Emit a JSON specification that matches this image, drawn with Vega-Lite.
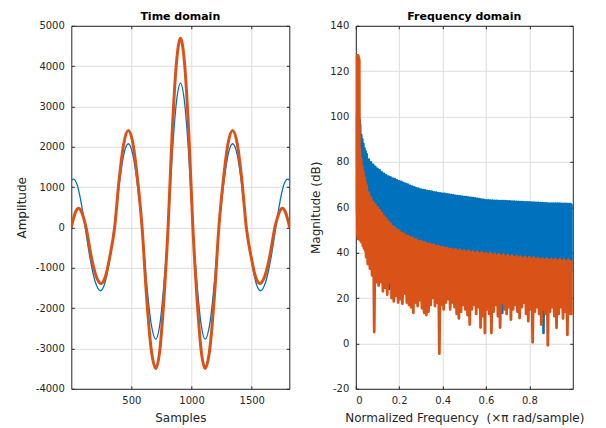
{
  "$schema": "https://vega.github.io/schema/vega-lite/v6.json",
  "background": "white",
  "padding": {"left": 14.3, "top": 10.8, "right": 5, "bottom": 5},
  "autosize": {"type": "pad"},
  "spacing": 18.5,
  "config": {
    "font": "DejaVu Sans",
    "view": {"stroke": null},
    "axis": {
      "labelFont": "DejaVu Sans", "labelFontSize": 10, "labelColor": "#262626",
      "titleFont": "DejaVu Sans", "titleFontSize": 12, "titleColor": "#262626", "titleFontWeight": "normal",
      "domainColor": "#262626", "tickColor": "#262626", "gridColor": "#dedede", "gridOpacity": 1,
      "tickSize": -3, "labelPadding": 10, "titlePadding": 7,
      "labelExpr": "'' + datum.value"
    },
    "axisX": {"titlePadding": 6.5},
    "title": {"font": "DejaVu Sans", "fontSize": 11, "fontWeight": "bold", "color": "#000000", "offset": -1.2, "frame": "group"}
  },
  "datasets": {
    "tb": [
      {"n":1,"v":1165},{"n":20,"v":1197},{"n":52,"v":1037},{"n":84,"v":599},{"n":116,"v":0},
      {"n":158,"v":-785},{"n":201,"v":-1359},{"n":243,"v":-1569},{"n":282,"v":-1359},{"n":320,"v":-785},
      {"n":359,"v":0},{"n":398,"v":1038},{"n":436,"v":1797},{"n":475,"v":2075},{"n":513,"v":1797},
      {"n":551,"v":1038},{"n":589,"v":0},{"n":627,"v":-1385},{"n":665,"v":-2398},{"n":703,"v":-2769},
      {"n":737,"v":-2398},{"n":771,"v":-1385},{"n":805,"v":0},{"n":839,"v":1789},{"n":874,"v":3098},
      {"n":908,"v":3577},{"n":942,"v":3098},{"n":977,"v":1789},{"n":1011,"v":0},{"n":1045,"v":-1385},
      {"n":1079,"v":-2398},{"n":1113,"v":-2769},{"n":1151,"v":-2398},{"n":1189,"v":-1385},{"n":1227,"v":0},
      {"n":1265,"v":1038},{"n":1303,"v":1797},{"n":1341,"v":2075},{"n":1380,"v":1797},{"n":1418,"v":1038},
      {"n":1457,"v":0},{"n":1496,"v":-785},{"n":1534,"v":-1359},{"n":1573,"v":-1569},{"n":1615,"v":-1359},
      {"n":1658,"v":-785},{"n":1700,"v":0},{"n":1732,"v":599},{"n":1764,"v":1037},{"n":1796,"v":1197},
      {"n":1815,"v":1165}
    ],
    "to": [
      {"n":1,"v":0},{"n":21,"v":239},{"n":41,"v":414},{"n":61,"v":478},{"n":82,"v":414},{"n":103,"v":239},
      {"n":124,"v":0},{"n":165,"v":-695},{"n":207,"v":-1204},{"n":248,"v":-1390},{"n":286,"v":-1204},
      {"n":323,"v":-695},{"n":361,"v":0},{"n":399,"v":1203},{"n":437,"v":2083},{"n":475,"v":2405},
      {"n":513,"v":2083},{"n":551,"v":1203},{"n":589,"v":0},{"n":627,"v":-1748},{"n":665,"v":-3027},
      {"n":703,"v":-3495},{"n":737,"v":-3027},{"n":771,"v":-1748},{"n":805,"v":0},{"n":839,"v":2347},
      {"n":874,"v":4064},{"n":908,"v":4693},{"n":942,"v":4064},{"n":977,"v":2347},{"n":1011,"v":0},
      {"n":1045,"v":-1748},{"n":1079,"v":-3027},{"n":1113,"v":-3495},{"n":1151,"v":-3027},{"n":1189,"v":-1748},
      {"n":1227,"v":0},{"n":1265,"v":1203},{"n":1303,"v":2083},{"n":1341,"v":2405},{"n":1379,"v":2083},
      {"n":1417,"v":1203},{"n":1455,"v":0},{"n":1493,"v":-695},{"n":1530,"v":-1204},{"n":1568,"v":-1390},
      {"n":1609,"v":-1204},{"n":1651,"v":-695},{"n":1692,"v":0},{"n":1713,"v":239},{"n":1734,"v":414},
      {"n":1755,"v":478},{"n":1775,"v":414},{"n":1795,"v":239},{"n":1815,"v":0}
    ],
    "fd": [
      {"f":0,"b":76,"o":96},{"f":0.001,"b":60,"o":84},{"f":0.002,"b":100,"o":126},{"f":0.003,"b":58,"o":80},
      {"f":0.004,"b":101,"o":127},{"f":0.005,"b":60,"o":52},{"f":0.006,"b":101,"o":127},{"f":0.007,"b":62,"o":48},
      {"f":0.008,"b":100,"o":127},{"f":0.009,"b":62,"o":47},{"f":0.010,"b":100,"o":127},{"f":0.011,"b":62,"o":46},
      {"f":0.012,"b":100,"o":126.5},{"f":0.013,"b":62,"o":47},{"f":0.014,"b":99.5,"o":126},{"f":0.015,"b":62,"o":46},
      {"f":0.016,"b":99,"o":125},{"f":0.017,"b":62,"o":46},{"f":0.018,"b":98,"o":86},{"f":0.019,"b":60,"o":46},
      {"f":0.020,"b":96.5,"o":84},
      {"f":0.0225,"b":78,"o":45},{"f":0.025,"b":92,"o":81},{"f":0.0275,"b":74,"o":44.5},{"f":0.03,"b":90,"o":78},
      {"f":0.0325,"b":71,"o":43},{"f":0.035,"b":88,"o":75.5},{"f":0.0375,"b":69,"o":42},{"f":0.04,"b":86,"o":73},
      {"f":0.0425,"b":66,"o":41},{"f":0.045,"b":84.7,"o":71},{"f":0.0475,"b":64,"o":38},{"f":0.05,"b":83.5,"o":69.5},
      {"f":0.055,"b":62,"o":35},{"f":0.06,"b":81.0,"o":66.5},{"f":0.065,"b":60,"o":33},{"f":0.07,"b":79.8,"o":64.2},
      {"f":0.075,"b":58,"o":30},{"f":0.08,"b":78.7,"o":62.3},{"f":0.085,"b":57,"o":5},{"f":0.09,"b":77.9,"o":61.2},
      {"f":0.095,"b":56,"o":27},{"f":0.10,"b":77.0,"o":59.8},{"f":0.105,"b":55,"o":25.5},{"f":0.11,"b":76.3,"o":58.6},
      {"f":0.115,"b":53,"o":27},{"f":0.12,"b":75.4,"o":57.3},{"f":0.125,"b":52,"o":23},{"f":0.13,"b":74.8,"o":56.0},
      {"f":0.135,"b":51,"o":24.5},{"f":0.14,"b":74.1,"o":55.0},{"f":0.145,"b":50,"o":21.5},{"f":0.15,"b":73.6,"o":53.7},
      {"f":0.155,"b":24,"o":27},{"f":0.16,"b":73.2,"o":52.8},{"f":0.165,"b":48,"o":20},{"f":0.17,"b":72.7,"o":51.6},
      {"f":0.175,"b":47,"o":18.5},{"f":0.18,"b":72.4,"o":51.0},{"f":0.185,"b":46,"o":21},{"f":0.19,"b":71.9,"o":50.0},
      {"f":0.195,"b":46,"o":18},{"f":0.20,"b":71.5,"o":49.6},{"f":0.205,"b":45,"o":19.5},{"f":0.21,"b":71.2,"o":48.7},
      {"f":0.215,"b":44,"o":17.5},{"f":0.22,"b":70.7,"o":48.4},{"f":0.225,"b":44,"o":22},{"f":0.23,"b":70.4,"o":47.5},
      {"f":0.235,"b":43,"o":18},{"f":0.24,"b":70.0,"o":47.3},{"f":0.245,"b":43,"o":17},{"f":0.25,"b":69.5,"o":46.6},
      {"f":0.255,"b":42,"o":16},{"f":0.26,"b":69.1,"o":46.5},{"f":0.265,"b":42,"o":13.5},{"f":0.27,"b":68.8,"o":45.8},
      {"f":0.275,"b":41,"o":18},{"f":0.28,"b":68.4,"o":45.7},{"f":0.285,"b":41,"o":16.5},{"f":0.29,"b":68.1,"o":45.0},
      {"f":0.295,"b":41,"o":19},{"f":0.30,"b":67.8,"o":45.1},{"f":0.305,"b":40,"o":15.5},{"f":0.31,"b":67.6,"o":44.5},
      {"f":0.315,"b":40,"o":13.5},{"f":0.32,"b":67.5,"o":44.5},{"f":0.325,"b":40,"o":12.5},{"f":0.33,"b":67.2,"o":43.8},
      {"f":0.335,"b":39,"o":14},{"f":0.34,"b":67.0,"o":43.9},{"f":0.345,"b":39,"o":17},{"f":0.35,"b":66.9,"o":43.3},
      {"f":0.355,"b":39,"o":20},{"f":0.36,"b":66.6,"o":43.4},{"f":0.365,"b":39,"o":16.5},{"f":0.37,"b":66.5,"o":42.8},
      {"f":0.375,"b":38,"o":18},{"f":0.38,"b":66.3,"o":42.9},{"f":0.385,"b":38,"o":-4.5},{"f":0.39,"b":66.2,"o":42.3},
      {"f":0.395,"b":38,"o":17},{"f":0.40,"b":66.0,"o":42.4},{"f":0.405,"b":38,"o":15},{"f":0.41,"b":65.9,"o":41.9},
      {"f":0.415,"b":37,"o":18},{"f":0.42,"b":65.7,"o":42.0},{"f":0.425,"b":37,"o":19.5},{"f":0.43,"b":65.6,"o":41.5},
      {"f":0.435,"b":37,"o":15},{"f":0.44,"b":65.4,"o":41.7},{"f":0.445,"b":37,"o":18},{"f":0.45,"b":65.3,"o":41.1},
      {"f":0.455,"b":37,"o":16},{"f":0.46,"b":65.1,"o":41.4},{"f":0.465,"b":36,"o":13},{"f":0.47,"b":65.0,"o":40.8},
      {"f":0.475,"b":36,"o":11},{"f":0.48,"b":64.8,"o":41.2},{"f":0.485,"b":36,"o":14},{"f":0.49,"b":64.7,"o":40.5},
      {"f":0.495,"b":36,"o":17},{"f":0.50,"b":64.5,"o":40.9},{"f":0.505,"b":36,"o":15},{"f":0.51,"b":64.5,"o":40.2},
      {"f":0.515,"b":36,"o":12.5},{"f":0.52,"b":64.3,"o":40.8},{"f":0.525,"b":35,"o":8.3},{"f":0.53,"b":64.2,"o":40.0},
      {"f":0.535,"b":35,"o":15},{"f":0.54,"b":64.1,"o":40.5},{"f":0.545,"b":35,"o":17},{"f":0.55,"b":64.0,"o":39.8},
      {"f":0.555,"b":35,"o":13},{"f":0.56,"b":63.8,"o":40.3},{"f":0.565,"b":35,"o":16},{"f":0.57,"b":63.6,"o":39.5},
      {"f":0.575,"b":35,"o":7},{"f":0.58,"b":63.4,"o":40.1},{"f":0.585,"b":35,"o":12},{"f":0.59,"b":63.3,"o":39.3},
      {"f":0.595,"b":35,"o":4.6},{"f":0.60,"b":63.1,"o":39.9},{"f":0.605,"b":35,"o":15},{"f":0.61,"b":63.1,"o":39.1},
      {"f":0.615,"b":34,"o":13},{"f":0.62,"b":63.0,"o":39.7},{"f":0.625,"b":34,"o":4.6},{"f":0.63,"b":63.0,"o":38.9},
      {"f":0.635,"b":34,"o":14},{"f":0.64,"b":62.9,"o":39.5},{"f":0.645,"b":34,"o":17},{"f":0.65,"b":62.9,"o":38.7},
      {"f":0.655,"b":34,"o":12},{"f":0.66,"b":62.8,"o":39.3},{"f":0.665,"b":34,"o":7},{"f":0.67,"b":62.8,"o":38.5},
      {"f":0.675,"b":13.4,"o":18},{"f":0.68,"b":62.7,"o":39.1},{"f":0.685,"b":34,"o":15},{"f":0.69,"b":62.7,"o":38.3},
      {"f":0.695,"b":34,"o":13},{"f":0.70,"b":62.6,"o":38.9},{"f":0.705,"b":34,"o":16},{"f":0.71,"b":62.6,"o":38.0},
      {"f":0.715,"b":33,"o":10.5},{"f":0.72,"b":62.5,"o":38.7},{"f":0.725,"b":33,"o":15},{"f":0.73,"b":62.5,"o":37.9},
      {"f":0.735,"b":33,"o":17},{"f":0.74,"b":62.4,"o":38.5},{"f":0.745,"b":33,"o":14},{"f":0.75,"b":62.4,"o":37.7},
      {"f":0.755,"b":33,"o":11.2},{"f":0.76,"b":62.3,"o":38.3},{"f":0.765,"b":33,"o":16},{"f":0.77,"b":62.3,"o":37.5},
      {"f":0.775,"b":33,"o":18},{"f":0.78,"b":62.2,"o":38.1},{"f":0.785,"b":33,"o":13},{"f":0.79,"b":62.2,"o":37.3},
      {"f":0.795,"b":33,"o":9.8},{"f":0.80,"b":62.2,"o":37.9},{"f":0.805,"b":33,"o":15},{"f":0.81,"b":62.1,"o":37.2},
      {"f":0.815,"b":33,"o":0.5},{"f":0.82,"b":62.1,"o":37.8},{"f":0.825,"b":33,"o":14},{"f":0.83,"b":62.0,"o":37.0},
      {"f":0.835,"b":33,"o":16},{"f":0.84,"b":62.0,"o":37.6},{"f":0.845,"b":33,"o":13},{"f":0.85,"b":61.9,"o":36.8},
      {"f":0.855,"b":32,"o":8.3},{"f":0.86,"b":61.9,"o":37.4},{"f":0.865,"b":4.6,"o":15},{"f":0.87,"b":61.8,"o":36.7},
      {"f":0.875,"b":32,"o":13},{"f":0.88,"b":61.8,"o":37.3},{"f":0.885,"b":32,"o":-0.8},{"f":0.89,"b":61.7,"o":36.6},
      {"f":0.895,"b":32,"o":14},{"f":0.90,"b":61.7,"o":37.2},{"f":0.905,"b":32,"o":16},{"f":0.91,"b":61.7,"o":36.5},
      {"f":0.915,"b":32,"o":12},{"f":0.92,"b":61.6,"o":37.1},{"f":0.925,"b":32,"o":6.9},{"f":0.93,"b":61.6,"o":36.4},
      {"f":0.935,"b":32,"o":13},{"f":0.94,"b":61.6,"o":37.0},{"f":0.945,"b":32,"o":16},{"f":0.95,"b":61.5,"o":36.3},
      {"f":0.955,"b":32,"o":11},{"f":0.96,"b":61.5,"o":36.9},{"f":0.965,"b":32,"o":14},{"f":0.97,"b":61.5,"o":36.2},
      {"f":0.975,"b":32,"o":3.8},{"f":0.98,"b":61.4,"o":36.8},{"f":0.985,"b":32,"o":13},{"f":0.99,"b":61.4,"o":36.2},
      {"f":0.995,"b":32,"o":13},{"f":0.999,"b":61.4,"o":36.6}
    ]
  },
  "hconcat": [
    {
      "width": 218, "height": 363,
      "title": "Time domain",
      "layer": [
        {
          "data": {"name": "tb"},
          "mark": {"type": "line", "interpolate": "monotone", "color": "#0072BD", "strokeWidth": 1.3, "clip": true},
          "encoding": {
            "x": {"field": "n", "type": "quantitative", "scale": {"domain": [1, 1812], "nice": false, "zero": false},
                  "axis": {"title": "Samples", "values": [500, 1000, 1500], "orient": "bottom", "grid": true}},
            "y": {"field": "v", "type": "quantitative", "scale": {"domain": [-4000, 5000], "nice": false},
                  "axis": {"title": "Amplitude", "values": [-4000,-3000,-2000,-1000,0,1000,2000,3000,4000,5000], "orient": "left", "grid": true}}
          }
        },
        {
          "data": {"name": "to"},
          "mark": {"type": "line", "interpolate": "monotone", "color": "#D95319", "strokeWidth": 3, "clip": true},
          "encoding": {
            "x": {"field": "n", "type": "quantitative", "scale": {"domain": [1, 1812], "nice": false, "zero": false},
                  "axis": {"title": null, "labels": false, "values": [500, 1000, 1500], "orient": "top", "grid": false}},
            "y": {"field": "v", "type": "quantitative", "scale": {"domain": [-4000, 5000], "nice": false},
                  "axis": {"title": null, "labels": false, "values": [-4000,-3000,-2000,-1000,0,1000,2000,3000,4000,5000], "orient": "right", "grid": false}}
          }
        }
      ],
      "resolve": {"axis": {"x": "independent", "y": "independent"}}
    },
    {
      "width": 217, "height": 363,
      "title": "Frequency domain",
      "data": {"name": "fd"},
      "layer": [
        {
          "mark": {"type": "line", "color": "#0072BD", "strokeWidth": 2.6, "strokeJoin": "round", "clip": true},
          "encoding": {
            "x": {"field": "f", "type": "quantitative", "scale": {"domain": [0, 1], "nice": false},
                  "axis": {"title": "Normalized Frequency \u00a0(×π rad/sample)", "values": [0, 0.2, 0.4, 0.6, 0.8], "orient": "bottom", "grid": true}},
            "y": {"field": "b", "type": "quantitative", "scale": {"domain": [-20, 140], "nice": false, "zero": false},
                  "axis": {"title": "Magnitude (dB)", "values": [-20,0,20,40,60,80,100,120,140], "orient": "left", "grid": true}}
          }
        },
        {
          "mark": {"type": "line", "color": "#D95319", "strokeWidth": 2.8, "strokeJoin": "round", "clip": true},
          "encoding": {
            "x": {"field": "f", "type": "quantitative", "scale": {"domain": [0, 1], "nice": false},
                  "axis": {"title": null, "labels": false, "values": [0, 0.2, 0.4, 0.6, 0.8], "orient": "top", "grid": false}},
            "y": {"field": "o", "type": "quantitative", "scale": {"domain": [-20, 140], "nice": false, "zero": false},
                  "axis": {"title": null, "labels": false, "values": [-20,0,20,40,60,80,100,120,140], "orient": "right", "grid": false}}
          }
        }
      ],
      "resolve": {"axis": {"x": "independent", "y": "independent"}}
    }
  ]
}
